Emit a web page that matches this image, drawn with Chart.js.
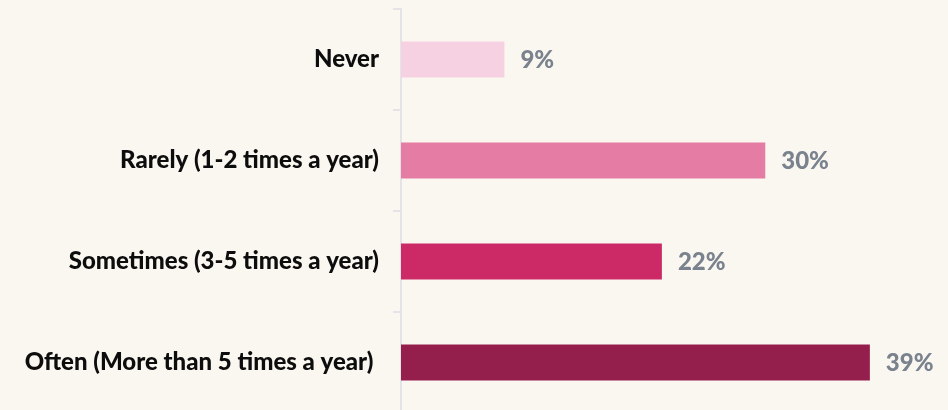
<!DOCTYPE html>
<html>
<head>
<meta charset="utf-8">
<script src="https://cdn.jsdelivr.net/npm/chart.js@4/dist/chart.umd.min.js"></script>
<style>
	html, body { margin: 0; padding: 0; background: #faf7f0; overflow: hidden; }
	#wrap { width: 948px; height: 420px; position: relative; }
</style>
</head>
<body>
<div id="wrap"><canvas id="myChart"></canvas></div>
<script>
const categories = ['Never', 'Rarely (1-2 times a year)', 'Sometimes (3-5 times a year)', 'Often (More than 5 times a year) ']
const shares = [8.6, 30.3, 21.7, 39.0]
const barColors = ['#f6d1e1', '#e57ca3', '#cb2a67', '#951f4c']

const valueLabels = {
	id: 'valueLabels',
	afterDatasetsDraw(chart) {
		const ctx = chart.ctx
		const meta = chart.getDatasetMeta(0)
		ctx.save()
		ctx.font = '900 24px Lato'
		ctx.fillStyle = '#7a828e'
		ctx.textAlign = 'left'
		ctx.textBaseline = 'middle'
		meta.data.forEach((bar, i) => {
			ctx.fillText(Math.round(shares[i]) + '%', bar.x + 16, bar.y + 1)
		})
		ctx.restore()
	},
}

new Chart(document.getElementById('myChart'), {
	type: 'bar',
	data: {
		labels: categories,
		datasets: [
			{
				data: shares,
				backgroundColor: barColors,
				categoryPercentage: 1,
				barPercentage: 0.356,
			},
		],
	},
	options: {
		indexAxis: 'y',
		responsive: true,
		maintainAspectRatio: false,
		animation: false,
		layout: { padding: { top: 9, bottom: 7, left: 20, right: 6 } },
		scales: {
			x: {
				display: false,
				min: 0,
				max: 45,
			},
			y: {
				afterFit: (scale) => {
					scale.width = 381
					scale.paddingTop = 0
					scale.paddingBottom = 0
				},
				grid: {
					drawOnChartArea: false,
					drawTicks: true,
					tickLength: 8,
					color: '#e4e4e8',
					lineWidth: 2,
				},
				border: { color: '#e4e4e8', width: 2 },
				ticks: {
					color: '#0d0d0d',
					padding: 14,
					font: { family: 'Lato', weight: '900', size: 24 },
				},
			},
		},
		plugins: {
			legend: { display: false },
			tooltip: { enabled: false },
		},
	},
	plugins: [valueLabels],
})
</script>
</body>
</html>
